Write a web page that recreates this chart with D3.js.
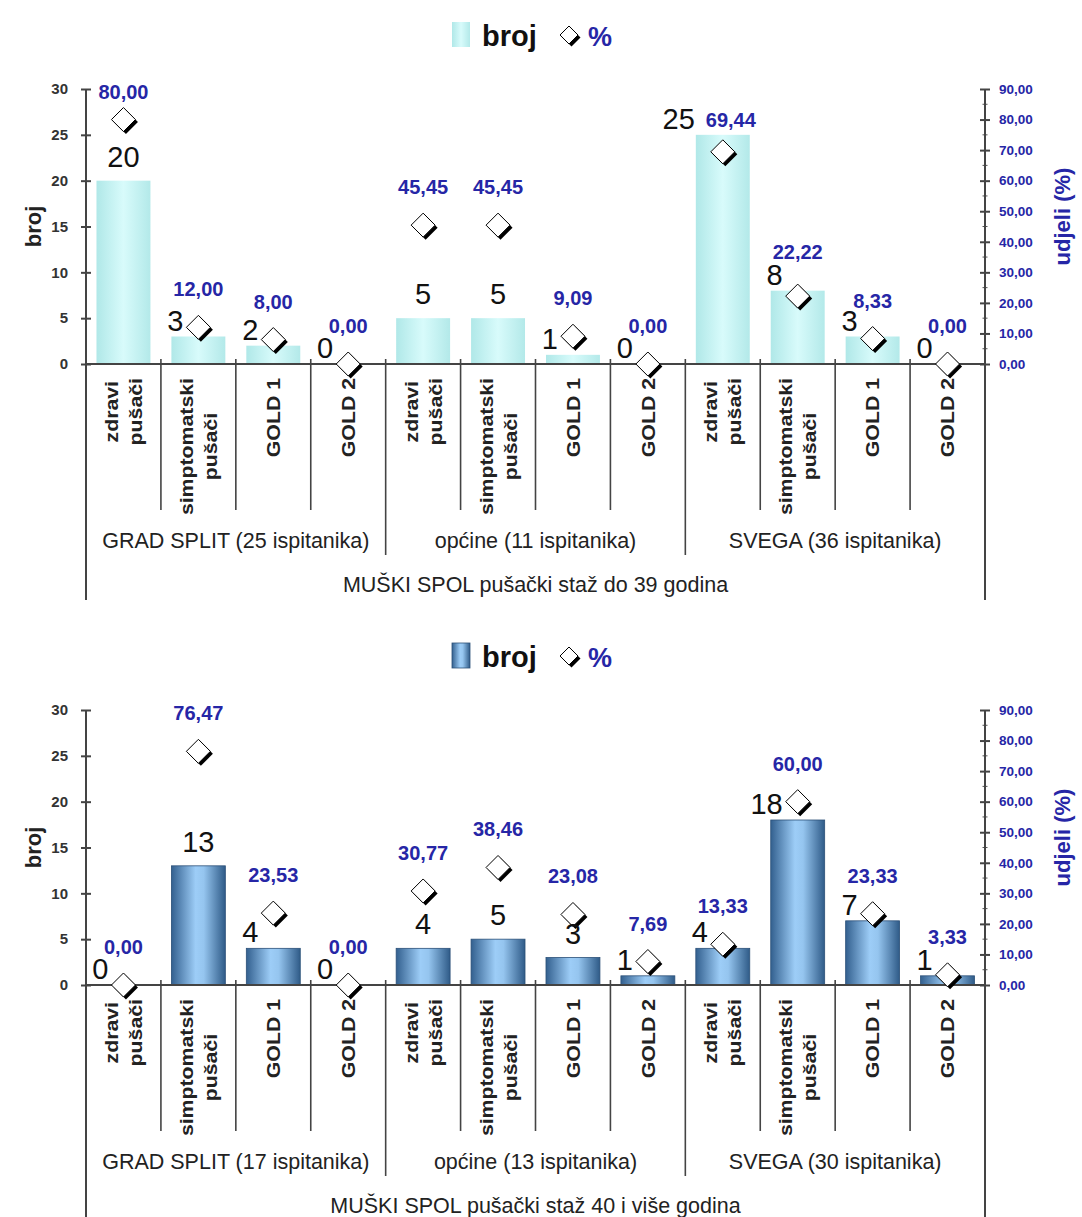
<!DOCTYPE html>
<html>
<head>
<meta charset="utf-8">
<script src="https://cdn.jsdelivr.net/npm/d3@7/dist/d3.min.js"></script>
<style>
  body { margin: 0; background: #fff; }
  svg { font-family: Arial, "Liberation Sans", sans-serif; }
</style>
</head>
<body>
<div id="chart"></div>
<script>
// podaci
const kategorije = [["zdravi", "pušači"], ["simptomatski", "pušači"], ["GOLD 1"], ["GOLD 2"]];
const broj39 = [20, 3, 2, 0, 5, 5, 1, 0, 25, 8, 3, 0];
const posto39 = [80.00, 12.00, 8.00, 0.00, 45.45, 45.45, 9.09, 0.00, 69.44, 22.22, 8.33, 0.00];
const grupe39 = ["GRAD SPLIT (25 ispitanika)", "općine (11 ispitanika)", "SVEGA (36 ispitanika)"];
const naslov39 = "MUŠKI SPOL pušački staž do 39 godina";

const broj40 = [0, 13, 4, 0, 4, 5, 3, 1, 4, 18, 7, 1];
const posto40 = [0.00, 76.47, 23.53, 0.00, 30.77, 38.46, 23.08, 7.69, 13.33, 60.00, 23.33, 3.33];
const grupe40 = ["GRAD SPLIT (17 ispitanika)", "općine (13 ispitanika)", "SVEGA (30 ispitanika)"];
const naslov40 = "MUŠKI SPOL pušački staž 40 i više godina";

const brojTicks = [0, 5, 10, 15, 20, 25, 30];
const postoTicks = [0, 10, 20, 30, 40, 50, 60, 70, 80, 90];

const PLAVA = "#2626a6";
const fmt = (v) => v.toFixed(2).replace(".", ",");

const svg = d3.select("#chart").append("svg")
  .attr("width", 1082).attr("height", 1217);

const defs = svg.append("defs");
function gradijent(id, stops) {
  const g = defs.append("linearGradient").attr("id", id)
    .attr("x1", "0%").attr("x2", "100%").attr("y1", "0%").attr("y2", "0%");
  stops.forEach(([o, c]) => g.append("stop").attr("offset", o).attr("stop-color", c));
}
gradijent("cijan", [["0%", "#b0e8e8"], ["50%", "#d8fbfb"], ["100%", "#b3e9e9"]]);
gradijent("plava", [["0%", "#33608f"], ["45%", "#9dcdf7"], ["60%", "#95c5ef"], ["100%", "#2f5b88"]]);

function dijamant(g, cx, cy, h) {
  const p = `M0,${-h} L${h},0 L0,${h} L${-h},0 Z`;
  g.append("path").attr("d", p).attr("fill", "#000")
    .attr("transform", `translate(${cx + 2.5},${cy + 2.5})`);
  g.append("path").attr("d", p).attr("fill", "#fff").attr("stroke", "#000").attr("stroke-width", 1)
    .attr("transform", `translate(${cx},${cy})`);
}

function crtaj(off, broj, posto, grupe, naslov, grad, trakaStroke) {
  const g = svg.append("g");
  const top = 89 + off, bot = 364 + off;
  const left = 86, right = 985;

  const kljucevi = d3.range(12);
  const x = d3.scaleBand().domain(kljucevi).range([left, right]).paddingInner(0.28).paddingOuter(0.14);
  const step = x.step();
  const yB = d3.scaleLinear().domain([0, 30]).range([bot, top]);
  const yP = d3.scaleLinear().domain([0, 90]).range([bot, top]);

  // legenda
  g.append("rect").attr("x", 452).attr("y", 22 + off).attr("width", 18).attr("height", 25)
    .attr("fill", `url(#${grad})`).attr("stroke", trakaStroke || "none").attr("stroke-width", 0.8);
  g.append("text").attr("x", 482).attr("y", 46 + off).attr("font-size", 29).attr("font-weight", "bold")
    .attr("fill", "#111").text("broj");
  dijamant(g, 569, 35 + off, 9);
  g.append("text").attr("x", 588).attr("y", 46 + off).attr("font-size", 27).attr("font-weight", "bold")
    .attr("fill", PLAVA).text("%");

  // trake
  g.selectAll(".bar").data(broj).enter().append("rect")
    .attr("x", (d, i) => x(i)).attr("width", x.bandwidth())
    .attr("y", (d) => yB(d)).attr("height", (d) => bot - yB(d))
    .attr("fill", `url(#${grad})`)
    .attr("stroke", trakaStroke || "none").attr("stroke-width", 0.8);

  // lijeva os
  const osL = g.append("g").attr("transform", `translate(${left},0)`)
    .call(d3.axisLeft(yB).tickValues(brojTicks).tickSize(5).tickPadding(13));
  osL.select(".domain").remove();
  osL.selectAll(".tick line").attr("x1", -5).attr("x2", 5).attr("stroke", "#444").attr("stroke-width", 2);
  osL.selectAll(".tick text").attr("font-size", 15).attr("font-weight", "bold").attr("fill", "#333")
    .attr("font-family", "Arial, 'Liberation Sans', sans-serif");

  // desna os
  const osD = g.append("g").attr("transform", `translate(${right},0)`)
    .call(d3.axisRight(yP).tickValues(postoTicks).tickSize(5).tickPadding(9).tickFormat(fmt));
  osD.select(".domain").remove();
  osD.selectAll(".tick line").attr("x1", -5).attr("x2", 5).attr("stroke", "#444").attr("stroke-width", 2);
  osD.selectAll(".tick text").attr("font-size", 13.5).attr("font-weight", "bold").attr("fill", PLAVA)
    .attr("font-family", "Arial, 'Liberation Sans', sans-serif");
  d3.range(5, 90, 10).forEach((v) => {
    g.append("line").attr("x1", right - 2.5).attr("x2", right + 2.5)
      .attr("y1", yP(v)).attr("y2", yP(v)).attr("stroke", "#555").attr("stroke-width", 1);
  });

  // okvir osi i razdjelnici
  const lin = (x1, y1, x2, y2, w) => g.append("line").attr("x1", x1).attr("y1", y1).attr("x2", x2).attr("y2", y2)
    .attr("stroke", "#444").attr("stroke-width", w || 2);
  lin(left, top, left, bot + 236);
  lin(right, top, right, bot + 236);
  lin(left, bot, right, bot);
  for (let i = 1; i < 12; i++) {
    const xs = left + i * step;
    lin(xs, bot - 5, xs, bot + (i % 4 === 0 ? 191 : 146), 1.6);
  }

  // oznake kategorija (rotirane, malo izdužene kao u originalu)
  const fs = 18.5, lh = 24, sx = 1.15;
  kljucevi.forEach((i) => {
    const linije = kategorije[i % 4];
    const cx = x(i) + x.bandwidth() / 2;
    const tmp = g.append("text").attr("font-size", fs).attr("font-weight", "bold").text(linije[0]);
    let L = 0;
    linije.forEach((t) => { tmp.text(t); L = Math.max(L, tmp.node().getComputedTextLength() * sx); });
    tmp.remove();
    const yc = bot + 14 + L / 2;
    linije.forEach((t, j) => {
      const xl = cx + (j - (linije.length - 1) / 2) * lh + fs * 0.36;
      g.append("text").attr("transform", `translate(${xl},${yc}) rotate(-90) scale(${sx},1)`)
        .attr("text-anchor", "middle").attr("font-size", fs).attr("font-weight", "bold")
        .attr("fill", "#222").text(t);
    });
  });

  // grupe i naslov
  grupe.forEach((t, k) => {
    g.append("text").attr("x", left + (k * 4 + 2) * step).attr("y", bot + 184)
      .attr("text-anchor", "middle").attr("font-size", 21.5).attr("fill", "#222").text(t);
  });
  g.append("text").attr("x", (left + right) / 2).attr("y", bot + 228)
    .attr("text-anchor", "middle").attr("font-size", 21.5).attr("fill", "#222").text(naslov);

  // naslovi osi
  g.append("text").attr("transform", `translate(${41},${(top + bot) / 2}) rotate(-90)`)
    .attr("text-anchor", "middle").attr("font-size", 22).attr("font-weight", "bold").attr("fill", "#222").text("broj");
  g.append("text").attr("transform", `translate(${1070},${(top + bot) / 2 - 10}) rotate(-90)`)
    .attr("text-anchor", "middle").attr("font-size", 22).attr("font-weight", "bold").attr("fill", PLAVA).text("udjeli (%)");

  // dijamanti i oznake vrijednosti
  kljucevi.forEach((i) => {
    const cx = x(i) + x.bandwidth() / 2;
    const py = yP(posto[i]);
    const by = yB(broj[i]);
    dijamant(g, cx, py, 12);

    const ulijevo = broj[i] === 0 || Math.abs(py - by) < 40;
    const bBase = ulijevo ? by - 6 : by - 14;
    let pBase = Math.max(py - 31, top + 10);
    let pX = cx, pAnchor = "middle";
    let bX = ulijevo ? cx - 15 : cx;
    if (ulijevo && pBase > bBase - 22) {
      if (broj[i] >= 10) {
        // dvoznamenkasti broj: postotak ide udesno, u istoj visini
        bX = cx - 28;
        pX = cx - 17; pAnchor = "start"; pBase = bBase - 2;
      } else {
        pBase = bBase - 26;
      }
    }

    g.append("text")
      .attr("x", bX).attr("y", bBase)
      .attr("text-anchor", ulijevo ? "end" : "middle")
      .attr("font-size", 29).attr("fill", "#111").text(broj[i]);

    g.append("text")
      .attr("x", pX).attr("y", pBase)
      .attr("text-anchor", pAnchor).attr("font-size", 20).attr("font-weight", "bold")
      .attr("fill", PLAVA).text(fmt(posto[i]));
  });
}

crtaj(0, broj39, posto39, grupe39, naslov39, "cijan", null);
crtaj(621, broj40, posto40, grupe40, naslov40, "plava", "#2b5078");
</script>
</body>
</html>
